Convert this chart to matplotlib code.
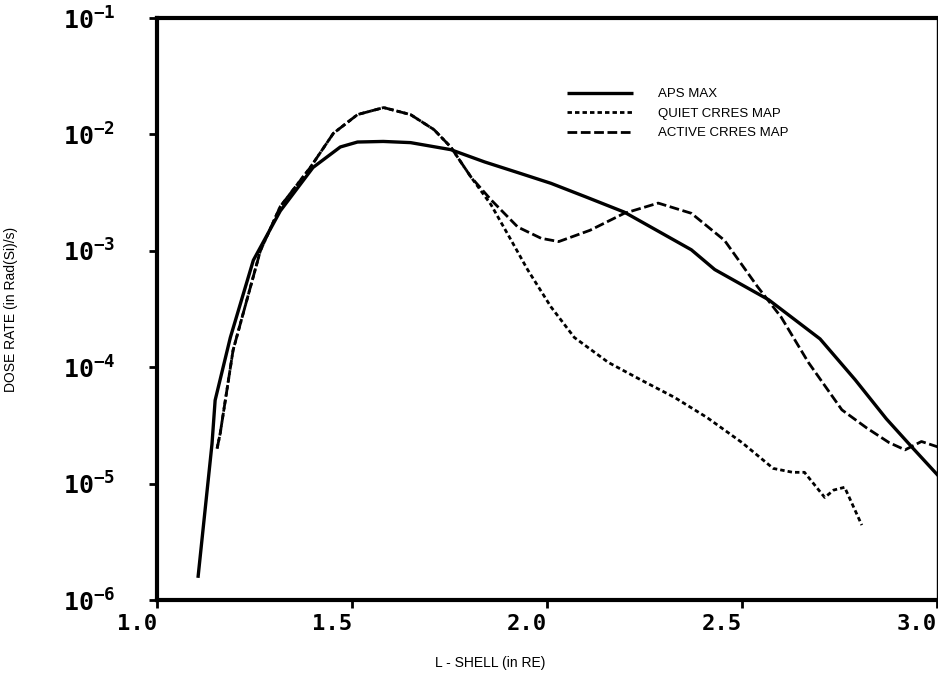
import matplotlib
matplotlib.use("Agg")
import matplotlib.pyplot as plt
import numpy as np

# L-shell values and dose rates (Rad(Si)/s)
aps_L = [1.105, 1.141, 1.149, 1.188, 1.247, 1.316, 1.40, 1.47, 1.514, 1.58, 1.65,
         1.753, 1.84, 1.925, 2.01, 2.10, 2.198, 2.37, 2.43, 2.568, 2.70, 2.79,
         2.87, 2.936, 3.005]
aps_D = [1.55e-6, 2.2e-5, 5.2e-5, 1.8e-4, 8.3e-4, 2.2e-3, 5.2e-3, 7.8e-3, 8.6e-3,
         8.7e-3, 8.5e-3, 7.4e-3, 5.8e-3, 4.7e-3, 3.8e-3, 2.9e-3, 2.15e-3, 1.02e-3,
         6.9e-4, 3.8e-4, 1.75e-4, 7.8e-5, 3.6e-5, 2.05e-5, 1.15e-5]

quiet_L = [1.154, 1.162, 1.195, 1.265, 1.316, 1.393, 1.452, 1.514, 1.581, 1.65,
           1.71, 1.753, 1.805, 1.856, 1.907, 1.95, 2.01, 2.07, 2.157, 2.24, 2.327,
           2.41, 2.50, 2.58, 2.63, 2.66, 2.712, 2.735, 2.763, 2.807]
quiet_D = [2.0e-5, 2.7e-5, 1.4e-4, 1.0e-3, 2.4e-3, 5.2e-3, 1.02e-2, 1.48e-2, 1.7e-2,
           1.48e-2, 1.1e-2, 7.8e-3, 4.3e-3, 2.5e-3, 1.25e-3, 6.9e-4, 3.3e-4, 1.8e-4,
           1.1e-4, 7.8e-5, 5.5e-5, 3.7e-5, 2.25e-5, 1.35e-5, 1.25e-5, 1.25e-5, 7.6e-6,
           8.8e-6, 9.3e-6, 4.4e-6]

active_L = [1.154, 1.162, 1.195, 1.265, 1.316, 1.393, 1.452, 1.514, 1.581, 1.65,
            1.71, 1.753, 1.805, 1.856, 1.925, 1.985, 2.03, 2.11, 2.198, 2.285, 2.37,
            2.455, 2.54, 2.60, 2.67, 2.756, 2.82, 2.877, 2.918, 2.96, 3.005]
active_D = [2.0e-5, 2.7e-5, 1.4e-4, 1.0e-3, 2.4e-3, 5.2e-3, 1.02e-2, 1.48e-2, 1.7e-2,
            1.48e-2, 1.1e-2, 7.8e-3, 4.3e-3, 2.75e-3, 1.6e-3, 1.28e-3, 1.2e-3, 1.5e-3,
            2.1e-3, 2.57e-3, 2.1e-3, 1.23e-3, 4.9e-4, 2.7e-4, 1.1e-4, 4.3e-5, 3.0e-5,
            2.25e-5, 1.95e-5, 2.3e-5, 2.05e-5]

x_ticks = [1.0, 1.5, 2.0, 2.5, 3.0]
x_tick_labels = ["1.0", "1.5", "2.0", "2.5", "3.0"]
y_ticks = [1e-6, 1e-5, 1e-4, 1e-3, 1e-2, 1e-1]
y_tick_labels = [r"$\mathbf{10^{-6}}$", r"$\mathbf{10^{-5}}$", r"$\mathbf{10^{-4}}$",
                 r"$\mathbf{10^{-3}}$", r"$\mathbf{10^{-2}}$", r"$\mathbf{10^{-1}}$"]

plt.rcParams['font.family'] = ['Liberation Sans', 'DejaVu Sans']
plt.rcParams['mathtext.fontset'] = 'custom'
plt.rcParams['mathtext.rm'] = 'DejaVu Sans Mono'
plt.rcParams['mathtext.bf'] = 'DejaVu Sans Mono:bold'

fig = plt.figure(figsize=(9.38, 6.98), dpi=100)
ax = fig.add_axes([0.1674, 0.1404, 0.8316, 0.8338])

ax.plot(aps_L, aps_D, color='black', lw=2.4, solid_capstyle='butt',
        label='APS MAX')
ax.plot(quiet_L, quiet_D, color='black', lw=2.0, linestyle=(0, (1.6, 1.1)),
        label='QUIET CRRES MAP')
ax.plot(active_L, active_D, color='black', lw=2.0, linestyle=(0, (3.5, 1.3)),
        label='ACTIVE CRRES MAP')

ax.set_yscale('log')
ax.set_xlim(1.0, 3.0)
ax.set_ylim(1e-6, 1e-1)

ax.set_xticks(x_ticks)
ax.set_xticklabels(x_tick_labels, family='DejaVu Sans Mono', fontweight='bold',
                   fontsize=16, ha='right')
ax.set_yticks(y_ticks)
ax.set_yticklabels(y_tick_labels, fontsize=18)
ax.yaxis.set_minor_locator(matplotlib.ticker.NullLocator())

ax.tick_params(axis='both', which='major', direction='out', length=6, width=2,
               color='black')
ax.tick_params(axis='x', pad=4)
ax.tick_params(axis='y', pad=24)

for side in ['top', 'left', 'bottom']:
    ax.spines[side].set_linewidth(3)
ax.spines['right'].set_linewidth(1)

ax.set_ylabel('DOSE RATE (in Rad(Si)/s)', fontsize=10)
ax.yaxis.set_label_coords(-0.178, 0.5)
ax.set_xlabel('L - SHELL (in RE)', fontsize=10)
ax.xaxis.set_label_coords(0.427, -0.097)

leg = ax.legend(loc='upper left', bbox_to_anchor=(0.51, 0.9), frameon=False,
                fontsize=9.5, handlelength=5.0, handletextpad=1.9,
                labelspacing=0.55)

fig.savefig('out.png', dpi=100)
